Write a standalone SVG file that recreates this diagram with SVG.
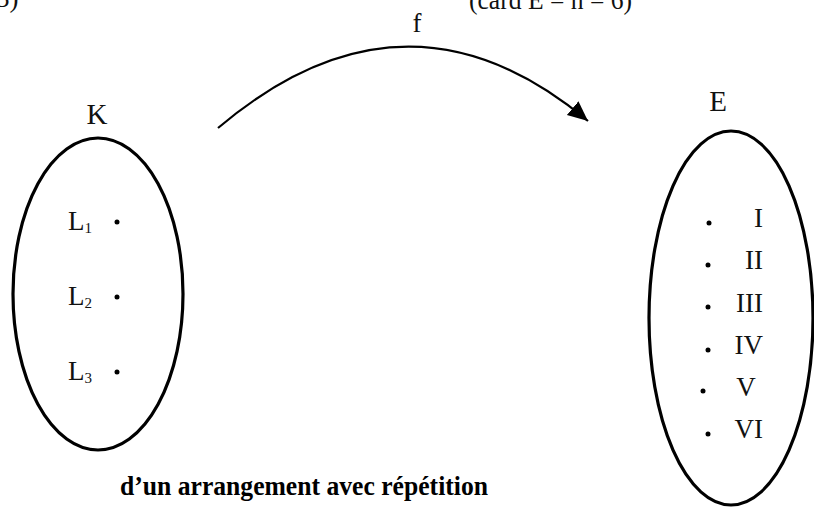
<svg xmlns="http://www.w3.org/2000/svg" width="814" height="507" viewBox="0 0 814 507">
  <style>
    .t { font-family: "Liberation Serif", "DejaVu Serif", serif; font-size: 27px; fill: #111; }
    .lab { font-family: "Liberation Serif", "DejaVu Serif", serif; font-size: 29px; fill: #111; }
    .sub { font-family: "Liberation Serif", "DejaVu Serif", serif; font-size: 15px; fill: #111; }
    .set { fill: none; stroke: #000; stroke-width: 3.2; }
    .dot { fill: #000; }
    .b { font-family: "Liberation Serif", "DejaVu Serif", serif; font-size: 27px; font-weight: bold; fill: #000; }
  </style>
  <defs>
    <marker id="arrow" markerUnits="userSpaceOnUse" markerWidth="24" markerHeight="20" refX="20" refY="9" orient="auto">
      <path d="M0,0 L20,9 L0,18 Z" fill="#000"/>
    </marker>
  </defs>
  <rect width="814" height="507" fill="#fff"/>

  <text class="t" x="-4" y="7">3)</text>
  <text class="t" x="469" y="9" textLength="163" lengthAdjust="spacingAndGlyphs">(card E = n = 6)</text>

  <g id="connectors">
    <path d="M218,128 Q406,-31 588,121" fill="none" stroke="#000" stroke-width="2.2" marker-end="url(#arrow)"/>
    <text class="t" x="417" y="32" text-anchor="middle">f</text>
  </g>

  <g id="K">
    <text class="lab" x="97" y="124" text-anchor="middle">K</text>
    <ellipse class="set" cx="98" cy="294" rx="85" ry="156"/>
    <text class="t" x="68" y="230">L<tspan class="sub" dy="3">1</tspan></text>
    <circle class="dot" cx="117" cy="222" r="2.5"/>
    <text class="t" x="68" y="305">L<tspan class="sub" dy="3">2</tspan></text>
    <circle class="dot" cx="117" cy="297" r="2.5"/>
    <text class="t" x="68" y="380">L<tspan class="sub" dy="3">3</tspan></text>
    <circle class="dot" cx="117" cy="372" r="2.5"/>
  </g>

  <g id="E">
    <text class="lab" x="718" y="111" text-anchor="middle">E</text>
    <ellipse class="set" cx="731" cy="318" rx="82" ry="187"/>
    <circle class="dot" cx="709" cy="223" r="2.5"/>
    <text class="t" x="763" y="227" text-anchor="end">I</text>
    <circle class="dot" cx="708" cy="265" r="2.5"/>
    <text class="t" x="763" y="269" text-anchor="end">II</text>
    <circle class="dot" cx="708" cy="307" r="2.5"/>
    <text class="t" x="763" y="312" text-anchor="end">III</text>
    <circle class="dot" cx="708" cy="350" r="2.5"/>
    <text class="t" x="763" y="354" text-anchor="end">IV</text>
    <circle class="dot" cx="703" cy="391" r="2.5"/>
    <text class="t" x="746" y="396" text-anchor="middle">V</text>
    <circle class="dot" cx="708" cy="434" r="2.5"/>
    <text class="t" x="763" y="438" text-anchor="end">VI</text>
  </g>

  <text class="b" x="120" y="495" textLength="368" lengthAdjust="spacingAndGlyphs">d’un arrangement avec répétition</text>
</svg>
